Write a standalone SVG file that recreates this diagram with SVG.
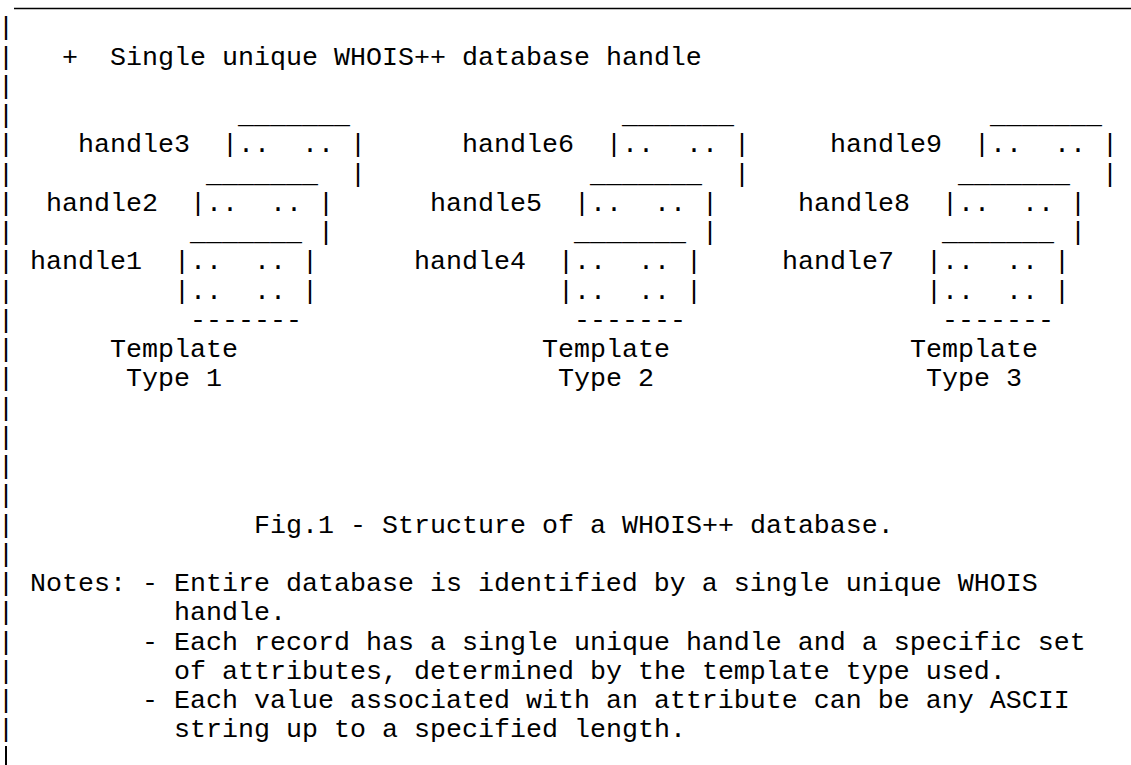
<svg xmlns="http://www.w3.org/2000/svg" width="1131" height="765" viewBox="0 0 1131 765">
<style>
text{font-family:"Liberation Mono","Courier New",monospace;font-size:26.667px;fill:#000;}
.rule{stroke:#000;stroke-width:1.4;}
.bar{stroke:#000;stroke-width:2;}
</style>
<rect x="0" y="0" width="1131" height="765" fill="#fff"/>
<g id="frame">
<line class="rule" x1="14" y1="8.5" x2="1131" y2="8.5"/>
<text x="-2" y="35.25">|</text><text x="-2" y="64.5">|</text><text x="-2" y="93.75">|</text><text x="-2" y="123">|</text>
<text x="-2" y="152.25">|</text><text x="-2" y="181.5">|</text><text x="-2" y="210.75">|</text><text x="-2" y="240">|</text>
<text x="-2" y="269.25">|</text><text x="-2" y="298.5">|</text><text x="-2" y="327.75">|</text><text x="-2" y="357">|</text>
<text x="-2" y="386.25">|</text><text x="-2" y="415.5">|</text><text x="-2" y="444.75">|</text><text x="-2" y="474">|</text>
<text x="-2" y="503.25">|</text><text x="-2" y="532.5">|</text><text x="-2" y="561.75">|</text><text x="-2" y="591">|</text>
<text x="-2" y="620.25">|</text><text x="-2" y="649.5">|</text><text x="-2" y="678.75">|</text><text x="-2" y="708">|</text>
<text x="-2" y="737.25">|</text>
<line class="bar" x1="6" y1="746" x2="6" y2="765"/>
</g>
<g id="database-handle">
<text x="62" y="64.5">+</text>
<text x="110" y="64.5">Single unique WHOIS++ database handle</text>
</g>
<g id="template-type-1">
<g id="record-handle3">
<text x="238" y="123">_______</text>
<text x="78" y="152.25">handle3</text>
<text x="222" y="152.25">|..</text><text x="302" y="152.25">..</text><text x="350" y="152.25">|</text>
<text x="350" y="181.5">|</text>
</g>
<g id="record-handle2">
<text x="206" y="181.5">_______</text>
<text x="46" y="210.75">handle2</text>
<text x="190" y="210.75">|..</text><text x="270" y="210.75">..</text><text x="318" y="210.75">|</text>
<text x="318" y="240">|</text>
</g>
<g id="record-handle1">
<text x="190" y="240">_______</text>
<text x="30" y="269.25">handle1</text>
<text x="174" y="269.25">|..</text><text x="254" y="269.25">..</text><text x="302" y="269.25">|</text>
<text x="174" y="298.5">|..</text><text x="254" y="298.5">..</text><text x="302" y="298.5">|</text>
<text x="190" y="327.75">-------</text>
</g>
<text x="110" y="357">Template</text>
<text x="126" y="386.25">Type 1</text>
</g>
<g id="template-type-2">
<g id="record-handle6">
<text x="622" y="123">_______</text>
<text x="462" y="152.25">handle6</text>
<text x="606" y="152.25">|..</text><text x="686" y="152.25">..</text><text x="734" y="152.25">|</text>
<text x="734" y="181.5">|</text>
</g>
<g id="record-handle5">
<text x="590" y="181.5">_______</text>
<text x="430" y="210.75">handle5</text>
<text x="574" y="210.75">|..</text><text x="654" y="210.75">..</text><text x="702" y="210.75">|</text>
<text x="702" y="240">|</text>
</g>
<g id="record-handle4">
<text x="574" y="240">_______</text>
<text x="414" y="269.25">handle4</text>
<text x="558" y="269.25">|..</text><text x="638" y="269.25">..</text><text x="686" y="269.25">|</text>
<text x="558" y="298.5">|..</text><text x="638" y="298.5">..</text><text x="686" y="298.5">|</text>
<text x="574" y="327.75">-------</text>
</g>
<text x="542" y="357">Template</text>
<text x="558" y="386.25">Type 2</text>
</g>
<g id="template-type-3">
<g id="record-handle9">
<text x="990" y="123">_______</text>
<text x="830" y="152.25">handle9</text>
<text x="974" y="152.25">|..</text><text x="1054" y="152.25">..</text><text x="1102" y="152.25">|</text>
<text x="1102" y="181.5">|</text>
</g>
<g id="record-handle8">
<text x="958" y="181.5">_______</text>
<text x="798" y="210.75">handle8</text>
<text x="942" y="210.75">|..</text><text x="1022" y="210.75">..</text><text x="1070" y="210.75">|</text>
<text x="1070" y="240">|</text>
</g>
<g id="record-handle7">
<text x="942" y="240">_______</text>
<text x="782" y="269.25">handle7</text>
<text x="926" y="269.25">|..</text><text x="1006" y="269.25">..</text><text x="1054" y="269.25">|</text>
<text x="926" y="298.5">|..</text><text x="1006" y="298.5">..</text><text x="1054" y="298.5">|</text>
<text x="942" y="327.75">-------</text>
</g>
<text x="910" y="357">Template</text>
<text x="926" y="386.25">Type 3</text>
</g>
<g id="connectors"></g>
<g id="caption">
<text x="254" y="532.5">Fig.1 - Structure of a WHOIS++ database.</text>
</g>
<g id="notes">
<text x="30" y="591">Notes: - Entire database is identified by a single unique WHOIS</text>
<text x="174" y="620.25">handle.</text>
<text x="142" y="649.5">- Each record has a single unique handle and a specific set</text>
<text x="174" y="678.75">of attributes, determined by the template type used.</text>
<text x="142" y="708">- Each value associated with an attribute can be any ASCII</text>
<text x="174" y="737.25">string up to a specified length.</text>
</g>
</svg>
